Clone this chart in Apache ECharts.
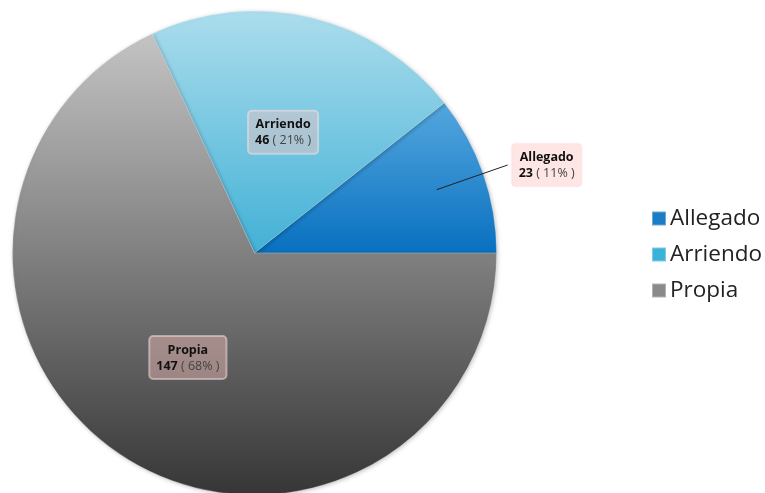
<!DOCTYPE html>
<html>
<head>
<meta charset="utf-8">
<script src="https://cdn.jsdelivr.net/npm/echarts@6/dist/echarts.min.js"></script>
<style>html,body{margin:0;padding:0;background:#fff;}#c{width:765px;height:493px;}</style>
</head>
<body>
<div id="c"></div>
<script>
const categories = ['Allegado', 'Arriendo', 'Propia'];
const values = [23, 46, 147];

const FONT = '"Open Sans", "Noto Sans", sans-serif';
const gradients = [
  ['#55a7de', '#0870c0'],
  ['#acdded', '#42b1d6'],
  ['#c4c4c4', '#363636']
];
const legendColors = ['#1a7dc6', '#3bb3d8', '#8a8a8a'];

function grad(c) {
  return new echarts.graphic.LinearGradient(0, 0, 0, 1, [
    { offset: 0, color: c[0] }, { offset: 1, color: c[1] }
  ]);
}

const rich = {
  n: { fontFamily: FONT, fontWeight: 'bold', fontSize: 12.5, color: '#111', lineHeight: 16, align: 'center' },
  v: { fontFamily: FONT, fontWeight: 'bold', fontSize: 12.5, color: '#111', lineHeight: 16 },
  p: { fontFamily: FONT, fontSize: 12.5, color: '#444', lineHeight: 16 }
};
const labelFmt = '{n|{b}}\n{v|{c}}{p| ( {d}% )}';
const boxStyle = {
  backgroundColor: 'rgba(250,195,190,0.42)',
  borderColor: 'rgba(255,235,235,0.5)',
  borderWidth: 1,
  borderRadius: 4,
  padding: [6, 7, 5, 7]
};

const mainData = categories.map((name, i) => ({
  name: name,
  value: values[i],
  itemStyle: { color: grad(gradients[i]) },
  label: i === 0 ? { show: false } : Object.assign({ show: true, position: 'inside', formatter: labelFmt, rich: rich }, boxStyle)
}));

const overlayData = categories.map((name, i) => ({
  name: name,
  value: values[i],
  label: { show: i === 0 },
  labelLine: { show: i === 0 }
}));

const chart = echarts.init(document.getElementById('c'));
chart.setOption({
  animation: false,
  legend: {
    orient: 'vertical',
    left: 651,
    top: 207,
    padding: 0,
    itemWidth: 14,
    itemHeight: 14,
    itemGap: 13,
    icon: 'rect',
    textStyle: { fontFamily: FONT, fontSize: 22.5, color: '#222', padding: [0, 0, 0, -1] },
    data: categories.map((n, i) => ({ name: n, itemStyle: { color: legendColors[i] } }))
  },
  series: [
    {
      type: 'pie',
      z: 2,
      center: [254.5, 253],
      radius: 242,
      startAngle: 0,
      clockwise: false,
      percentPrecision: 0,
      avoidLabelOverlap: false,
      itemStyle: {
        borderWidth: 0.6,
        borderColor: 'rgba(255,255,255,0.35)',
        shadowBlur: 4,
        shadowOffsetX: 1,
        shadowOffsetY: 1,
        shadowColor: 'rgba(0,0,0,0.25)'
      },
      labelLine: { show: false },
      emphasis: { disabled: true },
      data: mainData
    },
    {
      type: 'pie',
      z: 5,
      center: [254.5, 253],
      radius: 193,
      startAngle: 0,
      clockwise: false,
      percentPrecision: 0,
      silent: true,
      avoidLabelOverlap: false,
      itemStyle: { color: 'rgba(0,0,0,0)' },
      label: Object.assign({
        position: 'outside',
        alignTo: 'none',
        formatter: labelFmt,
        rich: rich,
        distanceToLabelLine: 4
      }, boxStyle),
      labelLine: { length: 75, length2: 0, lineStyle: { color: '#222', width: 1 } },
      emphasis: { disabled: true },
      data: overlayData
    }
  ]
});
</script>
</body>
</html>
